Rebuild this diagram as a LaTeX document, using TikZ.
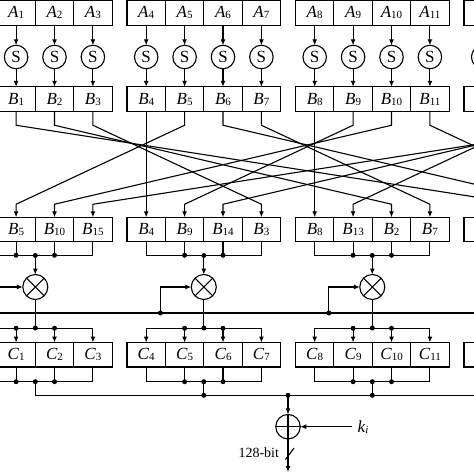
\documentclass[tikz,border=0pt]{standalone}
\usepackage{fontspec}
\setmainfont{Liberation Serif}
\usetikzlibrary{arrows.meta}
\newcommand{\byt}[2]{\textit{#1}\raisebox{-1pt}{\fontsize{11}{11}\selectfont #2}}

\begin{document}
\begin{tikzpicture}[x=1pt,y=-1pt,inner sep=0pt,outer sep=0pt,line width=1.1pt,
>={Latex[length=6pt,width=5pt]},
cellblock/.style={draw,rectangle,minimum width=38.4pt,minimum height=24.5pt,font=\fontsize{17}{17}\selectfont},
sbox/.style={draw,circle,minimum size=23.5pt,font=\fontsize{17}{17}\selectfont},
mixop/.style={draw,circle,minimum size=25pt},
dot/.style={fill,circle,minimum size=5pt}]

\useasboundingbox (0,0) rectangle (474,474);
\clip (0,0) rectangle (474,474);

\foreach \i in {0,...,15} {
  \pgfmathsetmacro\xc{-41.5+168.5*int(\i/4)+38.4*(mod(\i,4)+0.5)}
  \pgfmathtruncatemacro\r{mod(\i,4)}
  \pgfmathtruncatemacro\src{4*mod(int(\i/4)+\r,4)+\r}
  \pgfmathtruncatemacro\vis{(\i>0)*(\i<12)}
  \draw (\xc,12.8) node[cellblock] (a\i) {\ifnum\vis=1 \byt{A}{\i}\fi};
  \draw (\xc,57) node[sbox] (s\i) {\ifnum\vis=1 S\fi};
  \draw (\xc,99) node[cellblock] (b\i) {\ifnum\vis=1 \byt{B}{\i}\fi};
  \draw (\xc,229.5) node[cellblock] (bp\i) {\ifnum\vis=1 \byt{B}{\src}\fi};
  \draw (\xc,354.75) node[cellblock] (c\i) {\ifnum\vis=1 \byt{C}{\i}\fi};
  \draw[->] (a\i) -- (s\i);
  \draw[->] (s\i) -- (b\i);
}

\foreach \i in {0,...,15} {
  \pgfmathtruncatemacro\r{mod(\i,4)}
  \pgfmathtruncatemacro\dst{4*mod(int(\i/4)-\r+4,4)+\r}
  \draw[->] (b\i.south) -- ++(0,14) -- ([yshift=13pt]bp\dst.north) -- (bp\dst.north);
}

\draw (-50,313) -- (620,313);
\draw (35.3,395.3) -- (540.8,395.3);

\foreach \g in {0,...,3} {
  \pgfmathtruncatemacro\ia{4*\g}
  \pgfmathtruncatemacro\ib{4*\g+1}
  \pgfmathtruncatemacro\ic{4*\g+2}
  \pgfmathtruncatemacro\id{4*\g+3}
  \pgfmathsetmacro\gx{-41.5+168.5*\g+76.8}
  \draw (\gx,287) node[mixop] (mx\g) {};
  \draw (mx\g.north west) -- (mx\g.south east) (mx\g.north east) -- (mx\g.south west);
  \draw (bp\ia.south) -- ++(0,13.5) -| (bp\id.south);
  \draw (bp\ib.south) -- ++(0,13.5) node[dot] {};
  \draw (bp\ic.south) -- ++(0,13.5) node[dot] {};
  \draw[->] (\gx,255.5) node[dot] {} -- (mx\g);
  \draw[->] (\gx-43.4,313) node[dot] {} |- (mx\g);
  \draw (mx\g) -- (\gx,328) node[dot] {};
  \draw ([yshift=14.25pt]c\ia.north) -- ([yshift=14.25pt]c\id.north);
  \draw ([yshift=14.25pt]c\ib.north) node[dot] {} ([yshift=14.25pt]c\ic.north) node[dot] {};
  \foreach \k in {\ia,\ib,\ic,\id}
    \draw[->] ([yshift=14.25pt]c\k.north) -- (c\k.north);
  \draw (c\ia.south) -- ++(0,14.7) -| (c\id.south);
  \draw (c\ib.south) -- ++(0,14.7) node[dot] {};
  \draw (c\ic.south) -- ++(0,14.7) node[dot] {};
  \draw (\gx,381.7) node[dot] {} -- (\gx,395.3);
}
\draw (203.8,395.3) node[dot] {} (372.3,395.3) node[dot] {};

\draw (288,426.7) node[mixop,minimum size=24.5pt] (xr) {};
\draw (xr.north) -- (xr.south) (xr.west) -- (xr.east);
\draw[->] (288,395.3) node[dot] {} -- (xr);
\draw (363,426.7) node[inner xsep=6pt,font=\fontsize{17}{17}\selectfont] (ki) {\byt{k}{\textit{i}}};
\draw[->] (ki) -- (xr);
\coordinate (out) at (288,472);
\draw[->] (xr) -- (out);
\draw (285.5,459.5) -- (294,448);
\draw (279,453) node[anchor=east,font=\fontsize{14}{14}\selectfont] (nbits) {128-bit};
\end{tikzpicture}
\end{document}
